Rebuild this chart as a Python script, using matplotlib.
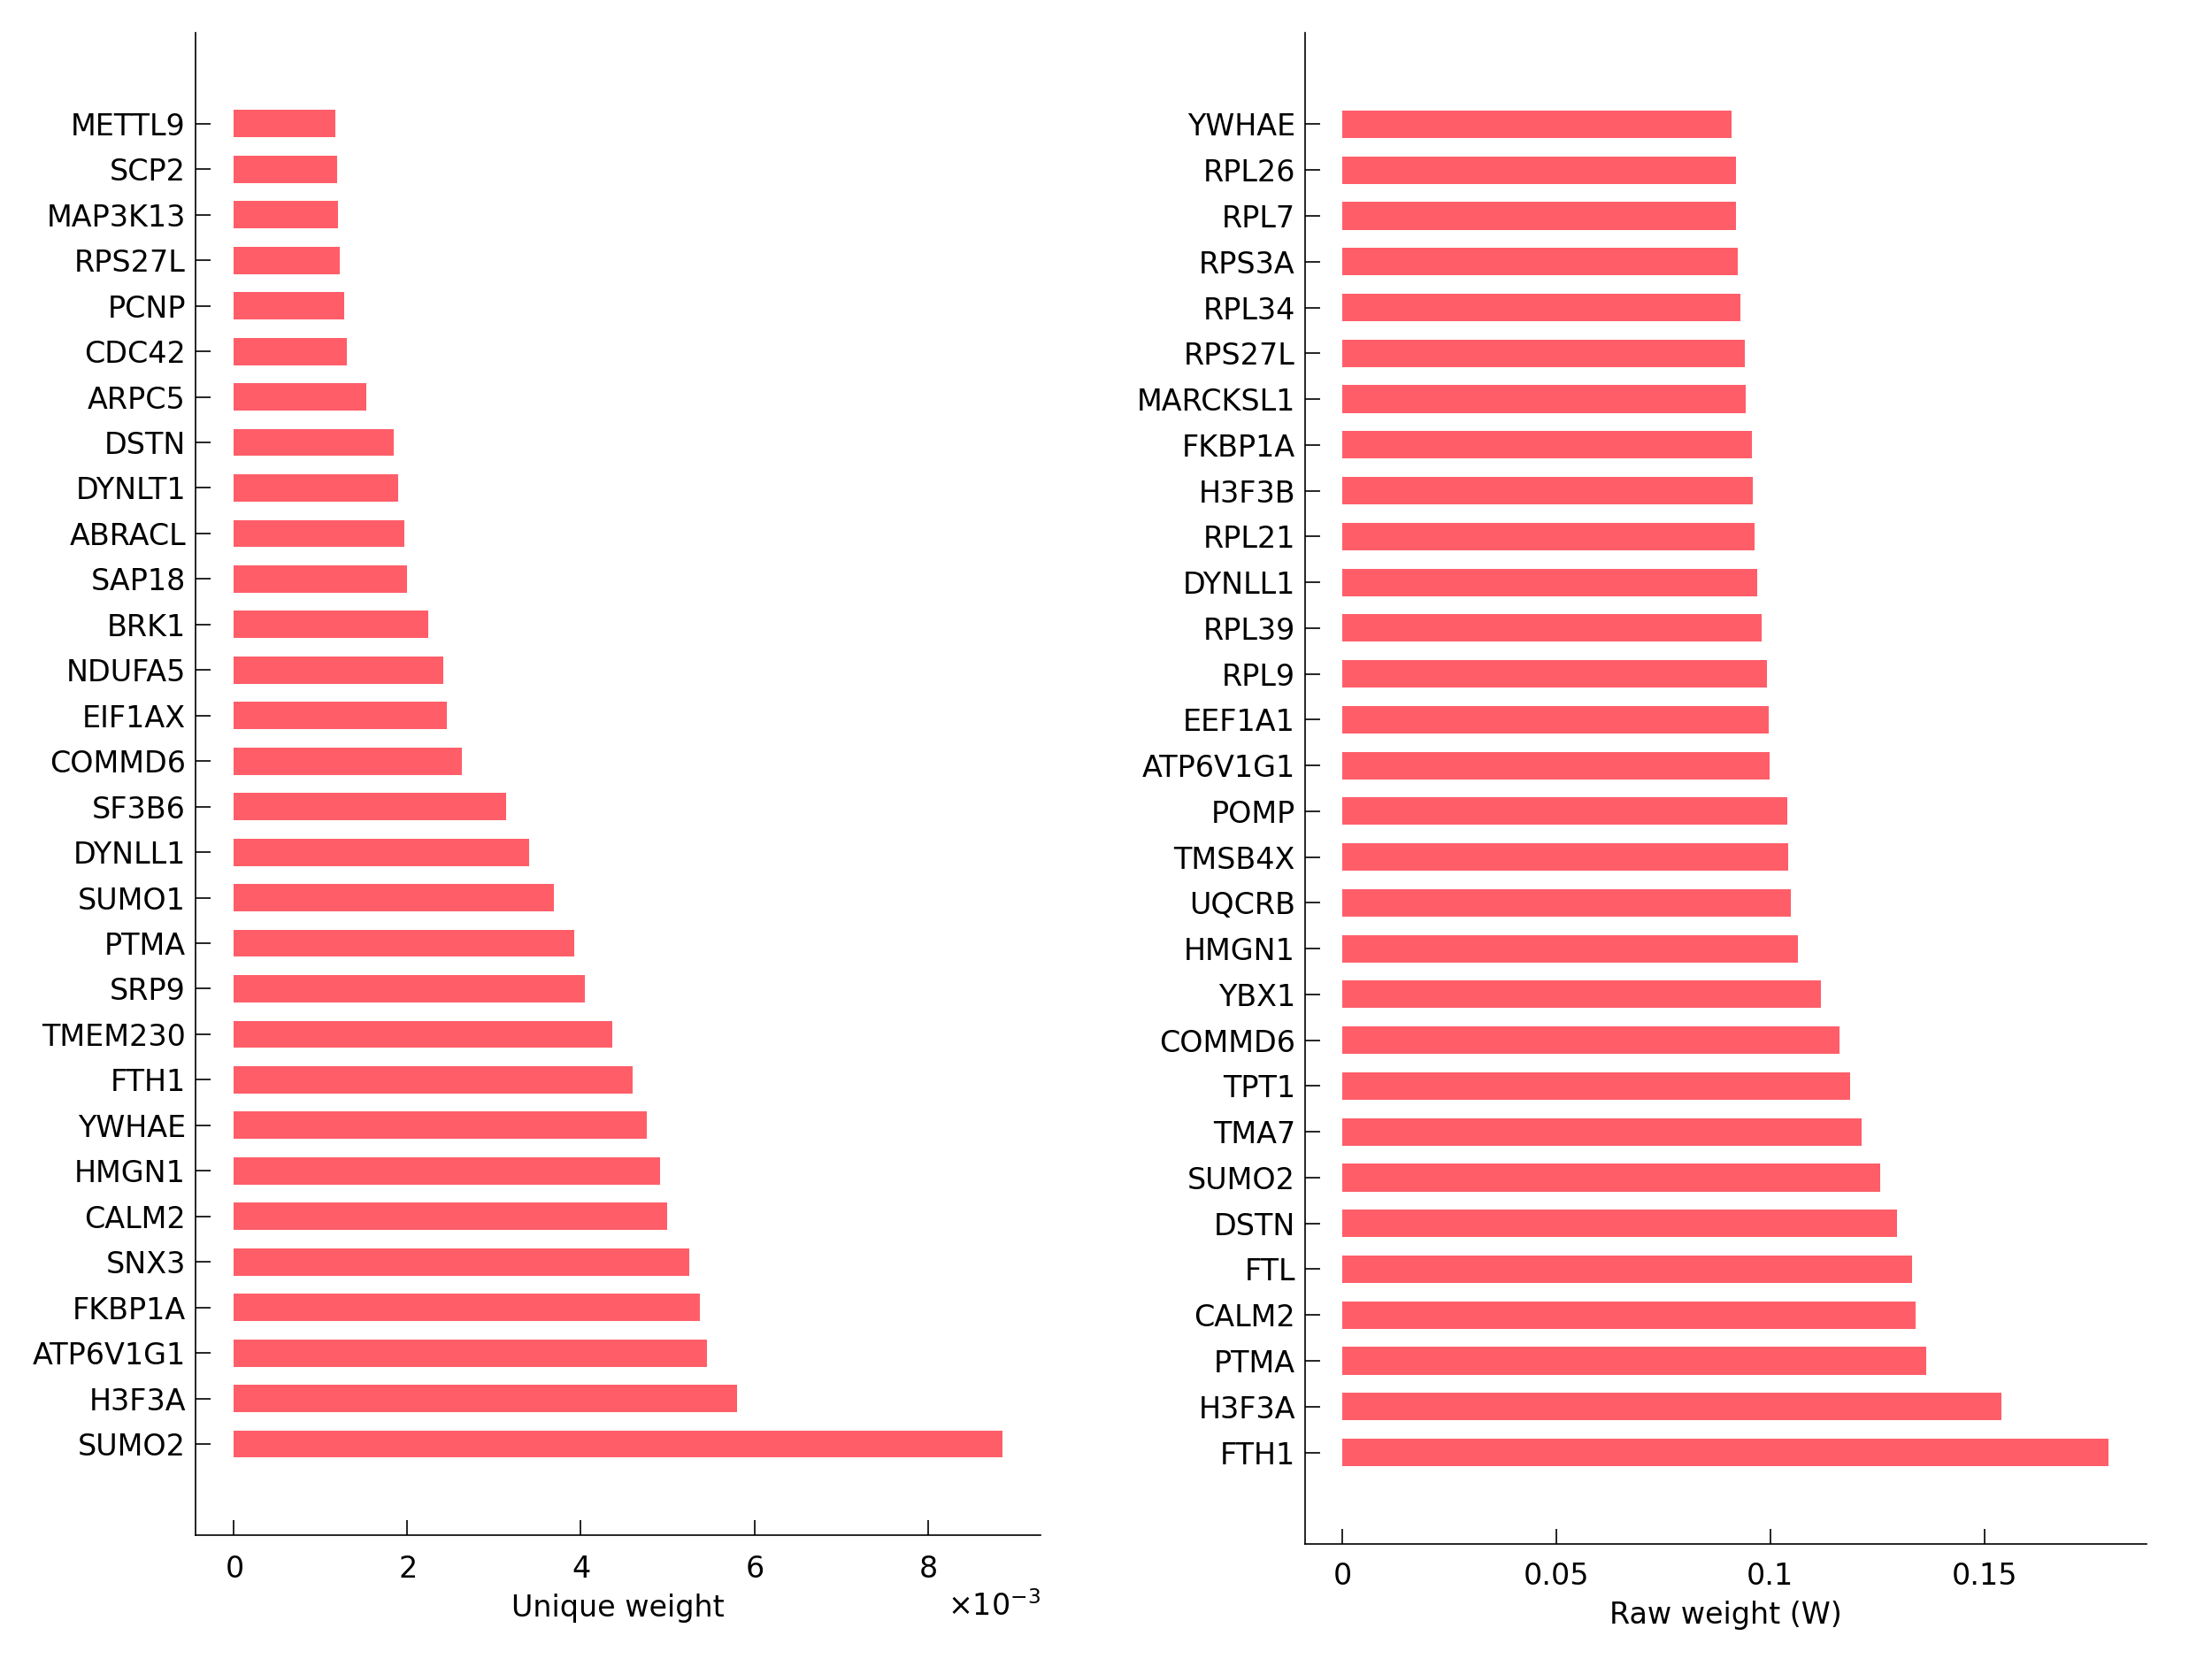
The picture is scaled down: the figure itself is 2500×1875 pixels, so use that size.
import numpy as np
import matplotlib
matplotlib.use('Agg')
import matplotlib.pyplot as plt
from matplotlib import ticker

# genes listed top to bottom as in the picture
unique_genes = ['METTL9', 'SCP2', 'MAP3K13', 'RPS27L', 'PCNP', 'CDC42', 'ARPC5',
                'DSTN', 'DYNLT1', 'ABRACL', 'SAP18', 'BRK1', 'NDUFA5', 'EIF1AX',
                'COMMD6', 'SF3B6', 'DYNLL1', 'SUMO1', 'PTMA', 'SRP9', 'TMEM230',
                'FTH1', 'YWHAE', 'HMGN1', 'CALM2', 'SNX3', 'FKBP1A', 'ATP6V1G1',
                'H3F3A', 'SUMO2']
unique_weight = [1.17e-3, 1.19e-3, 1.20e-3, 1.22e-3, 1.27e-3, 1.30e-3, 1.53e-3,
                 1.84e-3, 1.89e-3, 1.97e-3, 2.00e-3, 2.24e-3, 2.41e-3, 2.46e-3,
                 2.63e-3, 3.14e-3, 3.40e-3, 3.69e-3, 3.92e-3, 4.05e-3, 4.36e-3,
                 4.60e-3, 4.76e-3, 4.91e-3, 4.99e-3, 5.25e-3, 5.37e-3, 5.45e-3,
                 5.80e-3, 8.86e-3]

raw_genes = ['YWHAE', 'RPL26', 'RPL7', 'RPS3A', 'RPL34', 'RPS27L', 'MARCKSL1',
             'FKBP1A', 'H3F3B', 'RPL21', 'DYNLL1', 'RPL39', 'RPL9', 'EEF1A1',
             'ATP6V1G1', 'POMP', 'TMSB4X', 'UQCRB', 'HMGN1', 'YBX1', 'COMMD6',
             'TPT1', 'TMA7', 'SUMO2', 'DSTN', 'FTL', 'CALM2', 'PTMA', 'H3F3A',
             'FTH1']
raw_weight = [0.0910, 0.0920, 0.0920, 0.0923, 0.0930, 0.0940, 0.0943,
              0.0956, 0.0959, 0.0963, 0.0969, 0.0979, 0.0992, 0.0996,
              0.0999, 0.1039, 0.1042, 0.1048, 0.1065, 0.1118, 0.1161,
              0.1187, 0.1213, 0.1256, 0.1296, 0.1332, 0.1339, 0.1365, 0.1540,
              0.1790]

bar_color = '#FF5E69'
plt.rcParams['font.family'] = ['DejaVu Sans']
plt.rcParams['font.size'] = 12

fig = plt.figure(figsize=(12.5, 9.375), dpi=200)
ax1 = fig.add_axes([0.0884, 0.0747, 0.4705 - 0.0884, 0.9803 - 0.0747])
ax2 = fig.add_axes([0.59, 0.0693, 0.9705 - 0.59, 0.9803 - 0.0693])


def style(ax, genes, values, xlim, xticks, xpad):
    n = len(genes)
    pos = np.arange(n, 0, -1)
    ax.barh(pos, values, height=0.6, color=bar_color, left=0)
    ax.set_yticks(pos)
    ax.set_yticklabels(genes)
    ax.set_ylim(-1, n + 2)
    ax.set_xlim(*xlim)
    ax.set_xticks(xticks)
    for s in ['top', 'right']:
        ax.spines[s].set_visible(False)
    for s in ['left', 'bottom']:
        ax.spines[s].set_linewidth(0.6)
    ax.tick_params(axis='both', direction='in', length=6, width=0.6,
                   labelsize=12)
    ax.tick_params(axis='y', pad=4)
    ax.tick_params(axis='x', pad=xpad)


style(ax1, unique_genes, unique_weight, (-0.44e-3, 9.3e-3),
      [0, 2e-3, 4e-3, 6e-3, 8e-3], 8)
fmt = ticker.ScalarFormatter(useMathText=True)
fmt.set_powerlimits((-3, -3))
ax1.xaxis.set_major_formatter(fmt)
ax1.xaxis.get_offset_text().set_fontsize(12)
ax1.set_xlabel('Unique weight', fontsize=12, labelpad=4)

style(ax2, raw_genes, raw_weight, (-0.00877, 0.188),
      [0, 0.05, 0.1, 0.15], 7)
ax2.xaxis.set_major_formatter(ticker.FuncFormatter(lambda v, p: '%g' % v))
ax2.set_xlabel('Raw weight (W)', fontsize=12, labelpad=4)

plt.savefig('out.png')
